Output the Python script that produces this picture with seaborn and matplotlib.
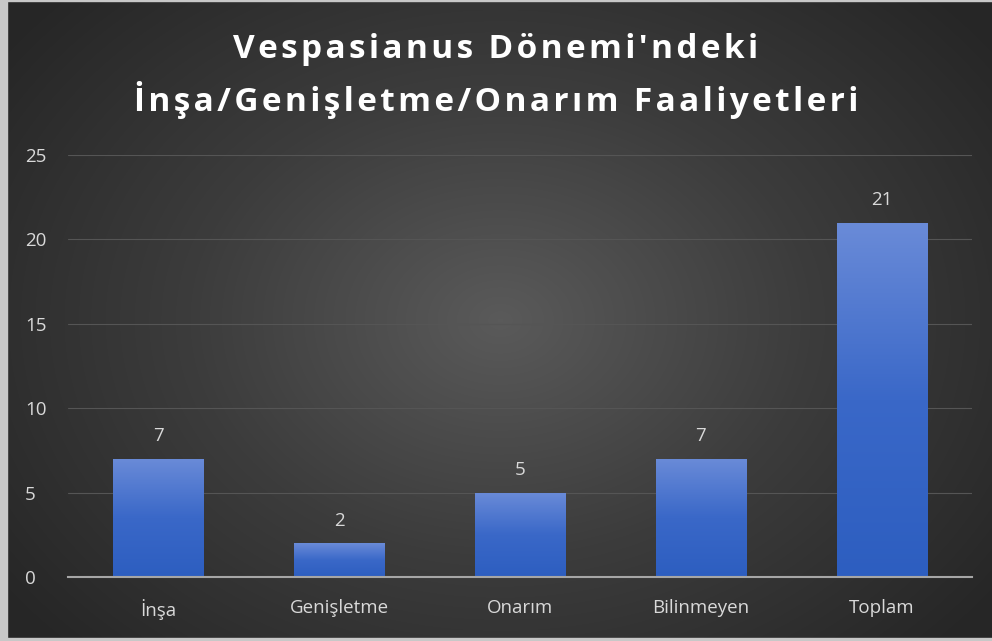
import numpy as np
import pandas as pd
import matplotlib
matplotlib.use('Agg')
import matplotlib.pyplot as plt
import seaborn as sns
from matplotlib.colors import LinearSegmentedColormap

# veriler
kategoriler = ['İnşa', 'Genişletme', 'Onarım', 'Bilinmeyen', 'Toplam']
degerler = [7, 2, 5, 7, 21]
baslik_satirlari = ["Vespasianus Dönemi'ndeki", "İnşa/Genişletme/Onarım Faaliyetleri"]

sns.set_style('dark')
plt.rcParams['font.family'] = ['Open Sans', 'DejaVu Sans']

df = pd.DataFrame({'kategori': kategoriler, 'deger': degerler})

fig = plt.figure(figsize=(9.92, 6.41), dpi=100)

# arka plan: radyal gradyan
bg_ax = fig.add_axes([0, 0, 1, 1], zorder=0)
yy, xx = np.mgrid[0:641, 0:992]
r = np.sqrt(((xx - 500) / 620.0) ** 2 + ((yy - 320) / 470.0) ** 2)
r = np.clip(r, 0, 1)
bg_cmap = LinearSegmentedColormap.from_list('bg', ['#5a5a5a', '#3c3c3c', '#262626'])
bg_ax.imshow(r, cmap=bg_cmap, aspect='auto', extent=[0, 1, 0, 1], vmin=0, vmax=1)
bg_ax.axvspan(0, 7 / 992, color='#c8c8c8')
bg_ax.axhspan(0, 3 / 641, color='#c8c8c8')
bg_ax.axhspan(1 - 1 / 641, 1, color='#c8c8c8')
bg_ax.set_xlim(0, 1)
bg_ax.set_ylim(0, 1)
bg_ax.axis('off')

ax = fig.add_axes([0.0685, 0.0998, 0.9115, 0.6584], zorder=1)
ax.patch.set_alpha(0)
sns.barplot(data=df, x='kategori', y='deger', color='#4472c4', width=0.5,
            linewidth=0, edgecolor='none', ax=ax)

# çubuklara dikey gradyan
bar_cmap = LinearSegmentedColormap.from_list('bar', ['#2d5ec0', '#3a68c8', '#6a8bd8'])
grad = np.linspace(0, 1, 256).reshape(-1, 1)
for p in ax.patches:
    x0, y0 = p.get_x(), p.get_y()
    w, h = p.get_width(), p.get_height()
    im = ax.imshow(grad, cmap=bar_cmap, origin='lower', aspect='auto',
                   extent=[x0, x0 + w, y0, y0 + h], zorder=2)
    im.set_clip_path(p)
    ax.text(x0 + w / 2, h + 0.8, str(int(h)), ha='center', va='bottom',
            color='#d9d9d9', fontsize=13.5)

ax.set_xlim(-0.5, 4.5)
ax.set_ylim(0, 25)
ax.set_yticks([0, 5, 10, 15, 20, 25])
ax.set_xlabel('')
ax.set_ylabel('')
ax.grid(axis='y', color='#555555', linewidth=0.8)
ax.set_axisbelow(True)
for s in ['top', 'right', 'left']:
    ax.spines[s].set_visible(False)
ax.spines['bottom'].set_color('#a6a6a6')
ax.spines['bottom'].set_linewidth(1.5)
ax.spines['bottom'].set_zorder(3)
ax.tick_params(axis='both', length=0, colors='#d9d9d9', labelsize=13.5)
ax.tick_params(axis='y', pad=31)
ax.tick_params(axis='x', pad=16)
for lbl in ax.get_yticklabels():
    lbl.set_horizontalalignment('left')

# başlık: harf aralığı için ince boşluk
for satir, y in zip(baslik_satirlari, [0.923, 0.844]):
    aralikli = '\u200a'.join(satir)
    fig.text(0.5, y, aralikli, ha='center', va='center', color='white',
             fontsize=24, fontweight='bold')

fig.savefig('out.png', dpi=100)
